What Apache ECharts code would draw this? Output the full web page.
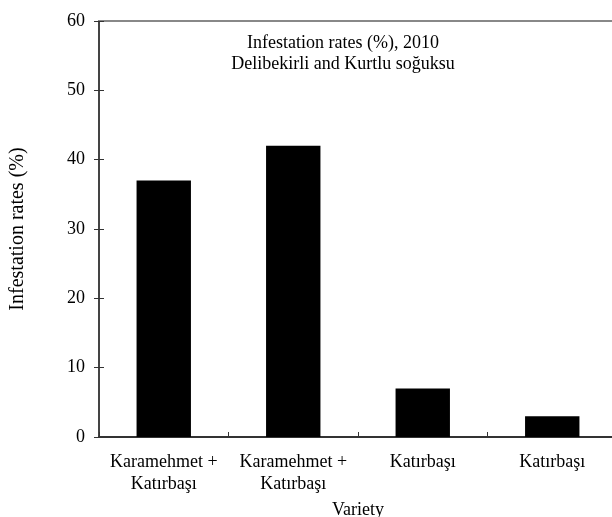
<!DOCTYPE html>
<html>
	<head>
		<meta charset="utf-8" />
		<title>Infestation rates</title>
		<style type="text/css">
			body,
			html,
			#chart {
				width: 100%;
				height: 100%;
				overflow: hidden;
				margin: 0;
				background: #fff;
			}
		</style>
	</head>
	<body>
		<div id="chart"></div>
		<script src="https://cdn.jsdelivr.net/npm/echarts@6/dist/echarts.min.js"></script>
		<script>
			// data
			var varieties = ['Karamehmet +\nKatırbaşı', 'Karamehmet +\nKatırbaşı', 'Katırbaşı', 'Katırbaşı'];
			var rates = [37, 42, 7, 3];
			var yTicks = { min: 0, max: 60, interval: 10 };

			var font = 'Liberation Serif';
			var dom = document.getElementById('chart');
			var myChart = echarts.init(dom);

			var option = {
				animation: false,
				textStyle: { fontFamily: font },
				title: {
					text: 'Infestation rates (%), 2010\nDelibekirli and Kurtlu soğuksu',
					left: 338,
					top: 28,
					textAlign: 'center',
					textStyle: {
						fontFamily: font,
						fontWeight: 'normal',
						fontSize: 18,
						lineHeight: 21,
						color: '#000'
					}
				},
				grid: { left: 99, top: 21, width: 518, height: 416, outerBoundsMode: 'none' },
				xAxis: [
					{
						type: 'category',
						data: varieties,
						position: 'bottom',
						name: 'Variety',
						nameLocation: 'middle',
						nameGap: 64,
						nameTextStyle: { fontFamily: font, fontSize: 18, color: '#000' },
						axisLine: { lineStyle: { color: '#333', width: 2 } },
						axisTick: { length: 5, lineStyle: { color: '#333' } },
						axisLabel: { interval: 0, fontFamily: font, fontSize: 18, color: '#000', margin: 14, lineHeight: 22 }
					},
					{
						type: 'category',
						data: varieties,
						position: 'bottom',
						axisLine: { show: false },
						axisTick: { show: true, inside: true, length: 5, lineStyle: { color: '#333' } },
						axisLabel: { show: false }
					},
					{
						type: 'category',
						data: varieties,
						position: 'top',
						axisLine: { lineStyle: { color: '#888', width: 2 } },
						axisTick: { show: false },
						axisLabel: { show: false }
					}
				],
				yAxis: [
					{
						type: 'value',
						min: yTicks.min,
						max: yTicks.max,
						interval: yTicks.interval,
						name: 'Infestation rates (%)',
						nameLocation: 'middle',
						nameGap: 71,
						nameTextStyle: { fontFamily: font, fontSize: 20, color: '#000' },
						splitLine: { show: false },
						axisLine: { show: true, lineStyle: { color: '#444', width: 2 } },
						axisTick: { show: true, length: 5, lineStyle: { color: '#333' } },
						axisLabel: { fontFamily: font, fontSize: 18, color: '#000', margin: 14 }
					},
					{
						type: 'value',
						min: yTicks.min,
						max: yTicks.max,
						interval: yTicks.interval,
						position: 'left',
						offset: 0,
						splitLine: { show: false },
						axisLine: { show: false },
						axisTick: { show: true, inside: true, length: 5, lineStyle: { color: '#333' } },
						axisLabel: { show: false }
					}
				],
				series: [
					{
						type: 'bar',
						data: rates,
						barWidth: '42%',
						itemStyle: { color: '#000' }
					}
				]
			};
			myChart.setOption(option);
		</script>
	</body>
</html>
